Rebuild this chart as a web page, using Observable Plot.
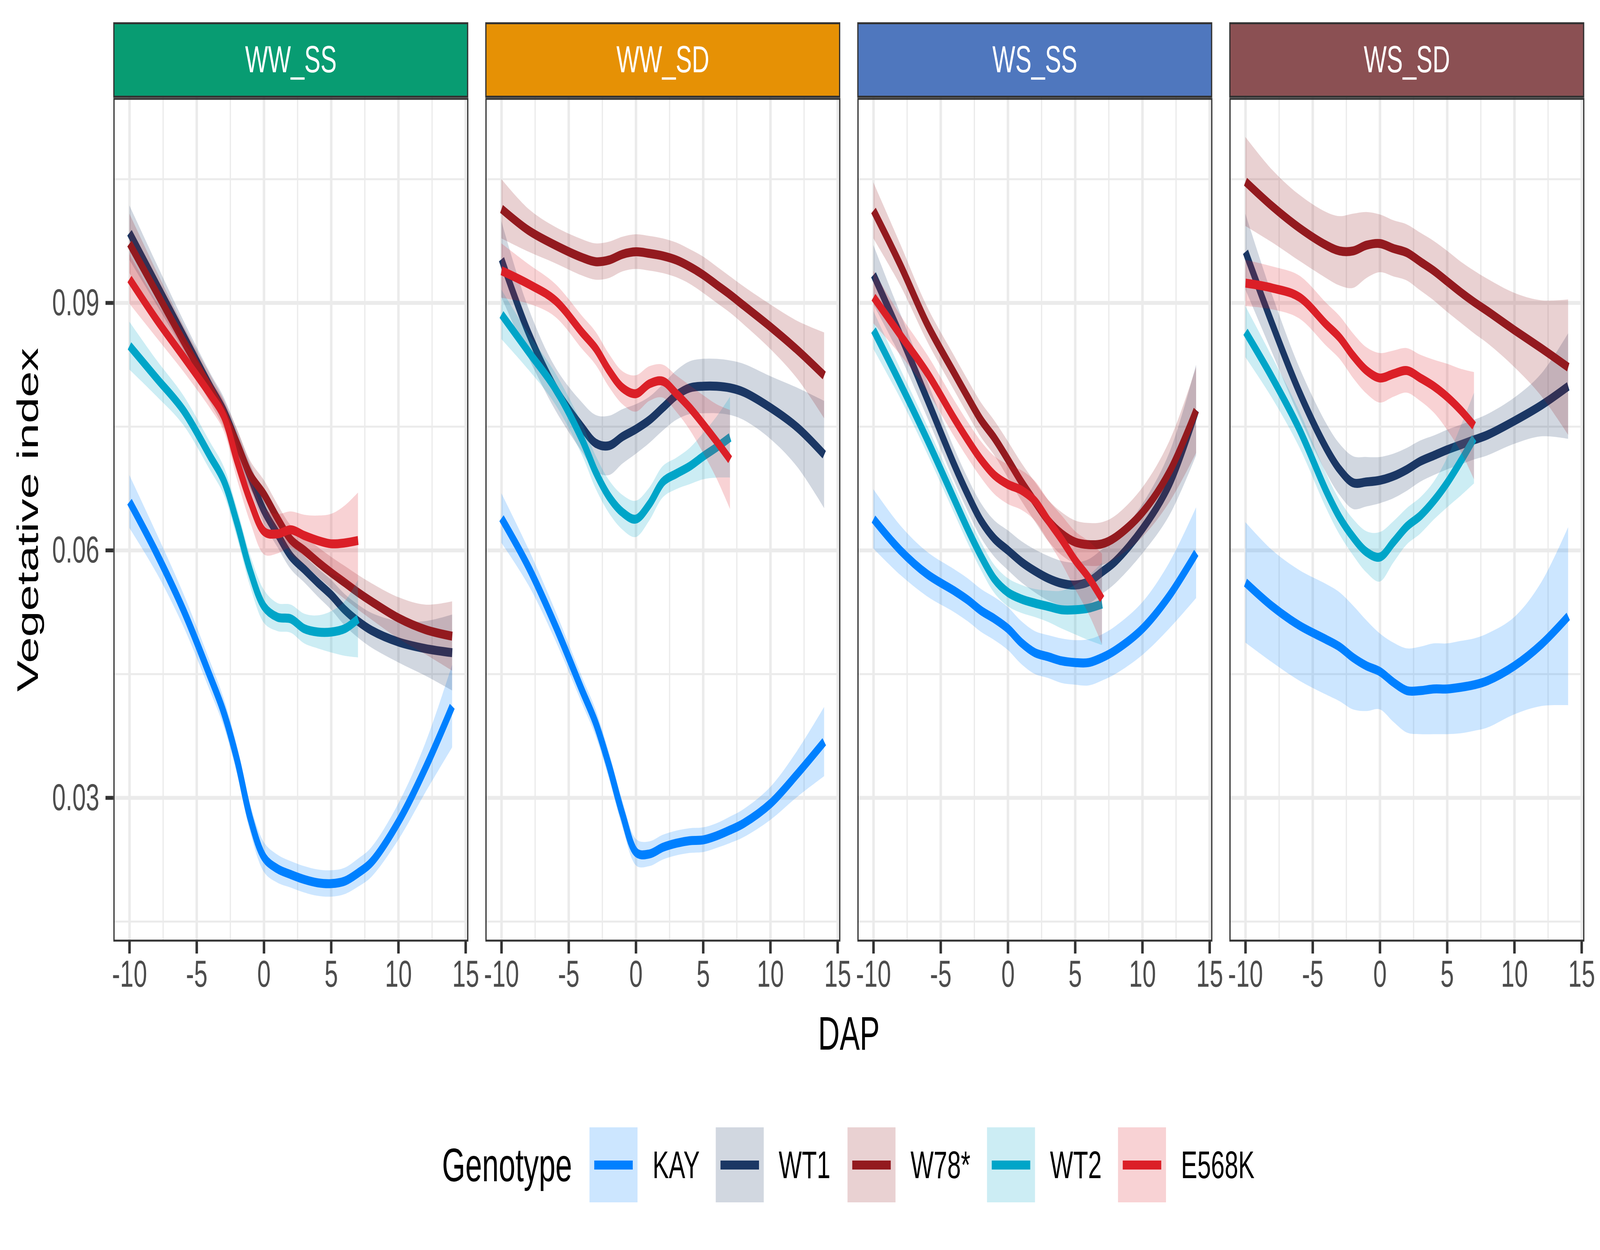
<!DOCTYPE html>
<html>
<head>
<meta charset="utf-8">
<script src="https://cdn.jsdelivr.net/npm/d3@7"></script>
<script src="https://cdn.jsdelivr.net/npm/@observablehq/plot@0.6"></script>
<style>
  html, body { margin: 0; padding: 0; background: #ffffff; overflow: hidden; }
  #outer { position: relative; overflow: hidden; background: #ffffff; }
  #wrap { position: absolute; left: 0; top: 0; width: 6400px; height: 3200px; background: #ffffff; transform-origin: 0 0; }
</style>
</head>
<body>
<div id="outer"><div id="wrap"></div></div>
<script>
// ---------------- data ----------------
const conditions = ["WW_SS", "WW_SD", "WS_SS", "WS_SD"];
const stripColors = ["#089C72", "#E69105", "#4F77BE", "#8B5053"];
const genotypes = ["KAY", "WT1", "W78*", "WT2", "E568K"];
const genoColors = ["#0080FF", "#1B3764", "#931A1F", "#00A5C8", "#DB1F27"];
const dap = [-10, -8, -6, -4, -3, -2, -1, 0, 1, 2, 3, 4, 5, 6, 7, 8, 10, 12, 14];
const xTicks = [-10, -5, 0, 5, 10, 15];
const xMinor = [-7.5, -2.5, 2.5, 7.5, 12.5];
const yTicks = [0.03, 0.06, 0.09];
const yMinor = [0.015, 0.045, 0.075, 0.105];

// WW_SS
const wwss_KAY   = [0.0659,0.0597,0.0528,0.0447,0.0404,0.0346,0.0274,0.0228,0.0214,0.0207,0.0201,0.0197,0.0196,0.0199,0.0209,0.0222,0.0271,0.0336,0.0411];
const wwss_KAY_se= [0.0032,0.0024,0.0020,0.0018,0.0017,0.0017,0.0017,0.0018,0.0017,0.0016,0.0016,0.0016,0.0016,0.0016,0.0017,0.0018,0.0022,0.0030,0.0050];
const wwss_WT1   = [0.0985,0.0923,0.0861,0.0799,0.0770,0.0730,0.0688,0.0648,0.0620,0.0593,0.0577,0.0561,0.0546,0.0528,0.0514,0.0503,0.0489,0.0481,0.0476];
const wwss_WT1_se= [0.0033,0.0025,0.0018,0.0016,0.0016,0.0016,0.0016,0.0016,0.0016,0.0016,0.0016,0.0017,0.0018,0.0019,0.0020,0.0021,0.0025,0.0033,0.0046];
const wwss_W78   = [0.0972,0.0913,0.0854,0.0796,0.0766,0.0730,0.0691,0.0668,0.0639,0.0613,0.0600,0.0586,0.0573,0.0561,0.0549,0.0538,0.0518,0.0504,0.0496];
const wwss_W78_se= [0.0036,0.0026,0.0019,0.0017,0.0017,0.0017,0.0017,0.0017,0.0017,0.0017,0.0017,0.0018,0.0019,0.0020,0.0021,0.0022,0.0025,0.0030,0.0042];
const wwss_WT2   = [0.0848,0.0809,0.0770,0.0714,0.0685,0.0633,0.0574,0.0532,0.0519,0.0517,0.0505,0.0501,0.0501,0.0505,0.0517];
const wwss_WT2_se= [0.0029,0.0022,0.0018,0.0017,0.0017,0.0018,0.0019,0.0020,0.0017,0.0017,0.0018,0.0020,0.0025,0.0033,0.0047];
const wwss_E568K   = [0.0929,0.0880,0.0835,0.0789,0.0763,0.0708,0.0659,0.0623,0.0620,0.0625,0.0618,0.0612,0.0608,0.0609,0.0612];
const wwss_E568K_se= [0.0030,0.0022,0.0018,0.0017,0.0018,0.0022,0.0026,0.0028,0.0024,0.0022,0.0025,0.0030,0.0036,0.0045,0.0058];

// WW_SD
const wwsd_KAY   = [0.0639,0.0580,0.0509,0.0430,0.0391,0.0339,0.0280,0.0234,0.0232,0.0240,0.0245,0.0248,0.0249,0.0254,0.0261,0.0269,0.0293,0.0329,0.0368];
const wwsd_KAY_se= [0.0030,0.0022,0.0018,0.0016,0.0016,0.0016,0.0016,0.0016,0.0015,0.0015,0.0015,0.0015,0.0015,0.0015,0.0016,0.0017,0.0020,0.0028,0.0042];
const wwsd_WT1   = [0.0953,0.0864,0.0796,0.0749,0.0730,0.0727,0.0738,0.0747,0.0758,0.0773,0.0788,0.0797,0.0799,0.0799,0.0797,0.0792,0.0773,0.0749,0.0716];
const wwsd_WT1_se= [0.0046,0.0030,0.0026,0.0030,0.0034,0.0036,0.0033,0.0030,0.0028,0.0028,0.0030,0.0032,0.0033,0.0033,0.0033,0.0034,0.0038,0.0048,0.0065];
const wwsd_W78   = [0.1014,0.0988,0.0970,0.0955,0.0950,0.0952,0.0959,0.0962,0.0960,0.0957,0.0952,0.0944,0.0934,0.0922,0.0910,0.0897,0.0871,0.0843,0.0812];
const wwsd_W78_se= [0.0036,0.0026,0.0022,0.0022,0.0022,0.0022,0.0021,0.0021,0.0021,0.0021,0.0021,0.0021,0.0022,0.0022,0.0022,0.0023,0.0027,0.0035,0.0052];
const wwsd_WT2   = [0.0886,0.0841,0.0796,0.0734,0.0695,0.0665,0.0646,0.0638,0.0656,0.0683,0.0693,0.0702,0.0714,0.0725,0.0737];
const wwsd_WT2_se= [0.0030,0.0022,0.0019,0.0019,0.0020,0.0020,0.0021,0.0022,0.0020,0.0019,0.0019,0.0022,0.0028,0.0037,0.0049];
const wwsd_E568K   = [0.0939,0.0923,0.0903,0.0864,0.0845,0.0818,0.0797,0.0790,0.0802,0.0805,0.0790,0.0773,0.0753,0.0732,0.0710];
const wwsd_E568K_se= [0.0033,0.0024,0.0020,0.0020,0.0020,0.0020,0.0020,0.0022,0.0021,0.0020,0.0022,0.0027,0.0035,0.0045,0.0060];

// WS_SS
const wsss_KAY   = [0.0638,0.0600,0.0571,0.0551,0.0540,0.0527,0.0517,0.0505,0.0488,0.0476,0.0471,0.0466,0.0464,0.0464,0.0470,0.0479,0.0505,0.0545,0.0597];
const wsss_KAY_se= [0.0036,0.0030,0.0027,0.0026,0.0026,0.0026,0.0026,0.0026,0.0026,0.0026,0.0026,0.0027,0.0027,0.0028,0.0028,0.0029,0.0032,0.0040,0.0055];
const wsss_WT1   = [0.0934,0.0861,0.0783,0.0704,0.0668,0.0636,0.0614,0.0600,0.0586,0.0575,0.0566,0.0560,0.0558,0.0562,0.0574,0.0587,0.0626,0.0680,0.0770];
const wsss_WT1_se= [0.0036,0.0026,0.0022,0.0020,0.0020,0.0021,0.0022,0.0024,0.0025,0.0026,0.0027,0.0027,0.0027,0.0027,0.0027,0.0027,0.0030,0.0038,0.0055];
const wsss_W78   = [0.1012,0.0946,0.0874,0.0815,0.0786,0.0758,0.0736,0.0710,0.0683,0.0659,0.0636,0.0620,0.0610,0.0607,0.0608,0.0616,0.0646,0.0695,0.0770];
const wsss_W78_se= [0.0034,0.0025,0.0021,0.0021,0.0021,0.0021,0.0021,0.0022,0.0023,0.0024,0.0025,0.0026,0.0026,0.0026,0.0026,0.0026,0.0030,0.0037,0.0052];
const wsss_WT2   = [0.0867,0.0802,0.0734,0.0662,0.0626,0.0593,0.0565,0.0549,0.0541,0.0536,0.0532,0.0528,0.0528,0.0530,0.0535];
const wsss_WT2_se= [0.0023,0.0018,0.0017,0.0017,0.0017,0.0017,0.0017,0.0017,0.0017,0.0017,0.0019,0.0023,0.0030,0.0039,0.0050];
const wsss_E568K   = [0.0907,0.0861,0.0815,0.0760,0.0734,0.0710,0.0691,0.0680,0.0673,0.0660,0.0636,0.0613,0.0588,0.0567,0.0541];
const wsss_E568K_se= [0.0032,0.0024,0.0022,0.0022,0.0022,0.0022,0.0023,0.0024,0.0024,0.0024,0.0025,0.0029,0.0035,0.0044,0.0055];

// WS_SD
const wssd_KAY   = [0.0561,0.0532,0.0509,0.0492,0.0483,0.0470,0.0460,0.0453,0.0440,0.0430,0.0430,0.0432,0.0432,0.0434,0.0437,0.0442,0.0460,0.0486,0.0520];
const wssd_KAY_se= [0.0073,0.0068,0.0067,0.0067,0.0066,0.0063,0.0055,0.0046,0.0048,0.0051,0.0053,0.0055,0.0055,0.0056,0.0056,0.0057,0.0059,0.0075,0.0108];
const wssd_WT1   = [0.0962,0.0874,0.0792,0.0724,0.0698,0.0682,0.0683,0.0685,0.0690,0.0698,0.0708,0.0715,0.0722,0.0728,0.0734,0.0740,0.0757,0.0776,0.0799];
const wssd_WT1_se= [0.0046,0.0035,0.0030,0.0030,0.0031,0.0032,0.0030,0.0028,0.0027,0.0026,0.0025,0.0024,0.0024,0.0024,0.0024,0.0025,0.0028,0.0038,0.0064];
const wssd_W78   = [0.1047,0.1017,0.0991,0.0970,0.0963,0.0963,0.0970,0.0972,0.0966,0.0961,0.0950,0.0939,0.0926,0.0913,0.0901,0.0890,0.0867,0.0845,0.0822];
const wssd_W78_se= [0.0054,0.0044,0.0040,0.0040,0.0042,0.0045,0.0040,0.0035,0.0034,0.0034,0.0035,0.0036,0.0037,0.0037,0.0038,0.0039,0.0045,0.0058,0.0082];
const wssd_WT2   = [0.0865,0.0809,0.0747,0.0672,0.0640,0.0616,0.0598,0.0592,0.0610,0.0629,0.0642,0.0660,0.0682,0.0708,0.0736];
const wssd_WT2_se= [0.0031,0.0025,0.0022,0.0021,0.0021,0.0022,0.0025,0.0030,0.0025,0.0022,0.0022,0.0023,0.0030,0.0042,0.0055];
const wssd_E568K   = [0.0924,0.0918,0.0907,0.0874,0.0858,0.0836,0.0818,0.0809,0.0814,0.0818,0.0809,0.0799,0.0786,0.0770,0.0751];
const wssd_E568K_se= [0.0028,0.0026,0.0026,0.0026,0.0026,0.0027,0.0028,0.0030,0.0028,0.0027,0.0028,0.0032,0.0040,0.0050,0.0065];

// table built from the arrays
const series = {
  "WW_SS": [[wwss_KAY, wwss_KAY_se], [wwss_WT1, wwss_WT1_se], [wwss_W78, wwss_W78_se], [wwss_WT2, wwss_WT2_se], [wwss_E568K, wwss_E568K_se]],
  "WW_SD": [[wwsd_KAY, wwsd_KAY_se], [wwsd_WT1, wwsd_WT1_se], [wwsd_W78, wwsd_W78_se], [wwsd_WT2, wwsd_WT2_se], [wwsd_E568K, wwsd_E568K_se]],
  "WS_SS": [[wsss_KAY, wsss_KAY_se], [wsss_WT1, wsss_WT1_se], [wsss_W78, wsss_W78_se], [wsss_WT2, wsss_WT2_se], [wsss_E568K, wsss_E568K_se]],
  "WS_SD": [[wssd_KAY, wssd_KAY_se], [wssd_WT1, wssd_WT1_se], [wssd_W78, wssd_W78_se], [wssd_WT2, wssd_WT2_se], [wssd_E568K, wssd_E568K_se]]
};
const rows = [];
for (const cond of conditions) {
  series[cond].forEach(([vals, ses], gi) => {
    vals.forEach((v, i) => {
      rows.push({cond, geno: genotypes[gi], dap: dap[i], v, lo: v - ses[i], hi: v + ses[i]});
    });
  });
}

// ---------------- layout / style ----------------
const FONT = "'Liberation Sans', Arial, Helvetica, sans-serif";
const W = 6400, H = 2780;
const mTop = 250, mBottom = 370, mLeft = 453, mRight = 63;
const panelH = H - mTop - mBottom;
const stripH = 193;
const small = 97, big = 120;
const lineW = 23;
const border = 5;

const marks = [];
// strips (border drawn inside, as ggplot clips it)
conditions.forEach((c, i) => {
  marks.push(Plot.rect([c], {fx: d => d, fill: stripColors[i], stroke: "#333333", strokeWidth: border,
    insetTop: -stripH + border / 2, insetBottom: panelH + border / 2, insetLeft: border / 2, insetRight: border / 2}));
});
marks.push(Plot.text(conditions, {fx: d => d, text: d => d, frameAnchor: "top", dy: -stripH / 2,
  lineAnchor: "middle", fill: "white", fontSize: small, fontFamily: FONT}));
// grid
marks.push(Plot.gridX({ticks: xMinor, stroke: "#EBEBEB", strokeOpacity: 1, strokeWidth: 5}));
marks.push(Plot.gridY({ticks: yMinor, stroke: "#EBEBEB", strokeOpacity: 1, strokeWidth: 5}));
marks.push(Plot.gridX({ticks: xTicks, stroke: "#EBEBEB", strokeOpacity: 1, strokeWidth: 10}));
marks.push(Plot.gridY({ticks: yTicks, stroke: "#EBEBEB", strokeOpacity: 1, strokeWidth: 10}));
// smooth ribbons + lines, one genotype after another
genotypes.forEach((g, gi) => {
  const sub = rows.filter(r => r.geno === g);
  marks.push(Plot.areaY(sub, {x: "dap", y1: "lo", y2: "hi", fx: "cond", fill: genoColors[gi],
    fillOpacity: 0.2, curve: "catmull-rom"}));
  marks.push(Plot.lineY(sub, {x: "dap", y: "v", fx: "cond", stroke: genoColors[gi],
    strokeWidth: lineW, strokeLinecap: "butt", strokeLinejoin: "round", curve: "catmull-rom"}));
});
// panel border
marks.push(Plot.frame({stroke: "#333333", strokeWidth: border, inset: border / 2}));
// axes
marks.push(Plot.axisX({ticks: xTicks, tickFormat: d => `${d}`, tickSize: 31, tickPadding: 16,
  fontSize: small, stroke: "#333333", strokeWidth: 10, fill: "#4D4D4D", label: null}));
marks.push(Plot.axisY({ticks: yTicks, tickFormat: d => d.toFixed(2), tickSize: 31, tickPadding: 25,
  fontSize: small, stroke: "#333333", strokeWidth: 10, fill: "#4D4D4D", label: null}));
// axis titles
marks.push(Plot.text(["Vegetative index"], {fx: ["WW_SS"], text: d => d, frameAnchor: "left",
  dx: 112 - mLeft, rotate: -90, textAnchor: "middle", lineAnchor: "middle", fontSize: big, fill: "black", fontFamily: FONT}));
marks.push(Plot.text(["DAP"], {fx: ["WW_SD"], text: d => d, frameAnchor: "bottom-right",
  dx: 34, dy: 2648 - (H - mBottom), lineAnchor: "middle", textAnchor: "middle", fontSize: big, fill: "black", fontFamily: FONT}));

const plot = Plot.plot({
  width: W, height: H,
  marginTop: mTop, marginBottom: mBottom, marginLeft: mLeft, marginRight: mRight,
  style: {fontFamily: FONT, background: "white", overflow: "visible", maxWidth: "none"},
  fx: {domain: conditions, paddingInner: 0.0457, paddingOuter: 0, axis: null, label: null},
  x: {domain: [-11.2, 15.2]},
  y: {domain: [0.012573, 0.114862]},
  marks
});
const wrap = document.getElementById("wrap");
wrap.appendChild(plot);

// ---------------- legend (below the svg) ----------------
const keyW = 192, keyH = 192, legendMid = 2982;
const keyLefts = [2358, 2863, 3390, 3948, 4472];
const legend = document.createElement("div");
legend.style.cssText = `position:absolute; left:0; top:${legendMid - keyH / 2}px; width:6400px; height:${keyH}px; font-family:${FONT}; color:#000; white-space:nowrap;`;
const title = document.createElement("div");
title.textContent = "Genotype";
title.style.cssText = `position:absolute; left:1768px; top:0; height:${keyH}px; line-height:${keyH}px; font-size:${big}px;`;
legend.appendChild(title);
genotypes.forEach((g, gi) => {
  const key = document.createElement("div");
  const c = d3.color(genoColors[gi]); c.opacity = 0.2;
  key.style.cssText = `position:absolute; left:${keyLefts[gi]}px; top:0; width:${keyW}px; height:${keyH}px; background:${c.formatRgb()};`;
  const ln = document.createElement("div");
  ln.style.cssText = `position:absolute; left:${keyW * 0.1}px; width:${keyW * 0.8}px; top:${keyH / 2 - lineW / 2}px; height:${lineW}px; background:${genoColors[gi]};`;
  key.appendChild(ln);
  legend.appendChild(key);
  const lab = document.createElement("div");
  lab.textContent = g;
  lab.style.cssText = `position:absolute; left:${keyLefts[gi] + keyW + 60}px; top:0; height:${keyH}px; line-height:${keyH}px; font-size:${small + 1}px;`;
  legend.appendChild(lab);
});
wrap.appendChild(legend);

// map the 6400x3200 drawing onto the actual viewport
const outer = document.getElementById("outer");
function fit() {
  const vw = window.innerWidth, vh = window.innerHeight;
  const sx = vw / 6400, sy = vh / 3200;
  wrap.style.transform = `scale(${sx}, ${sy})`;
  outer.style.width = `${vw}px`;
  outer.style.height = `${vh}px`;
}
fit();
window.addEventListener("resize", fit);
</script>
</body>
</html>
